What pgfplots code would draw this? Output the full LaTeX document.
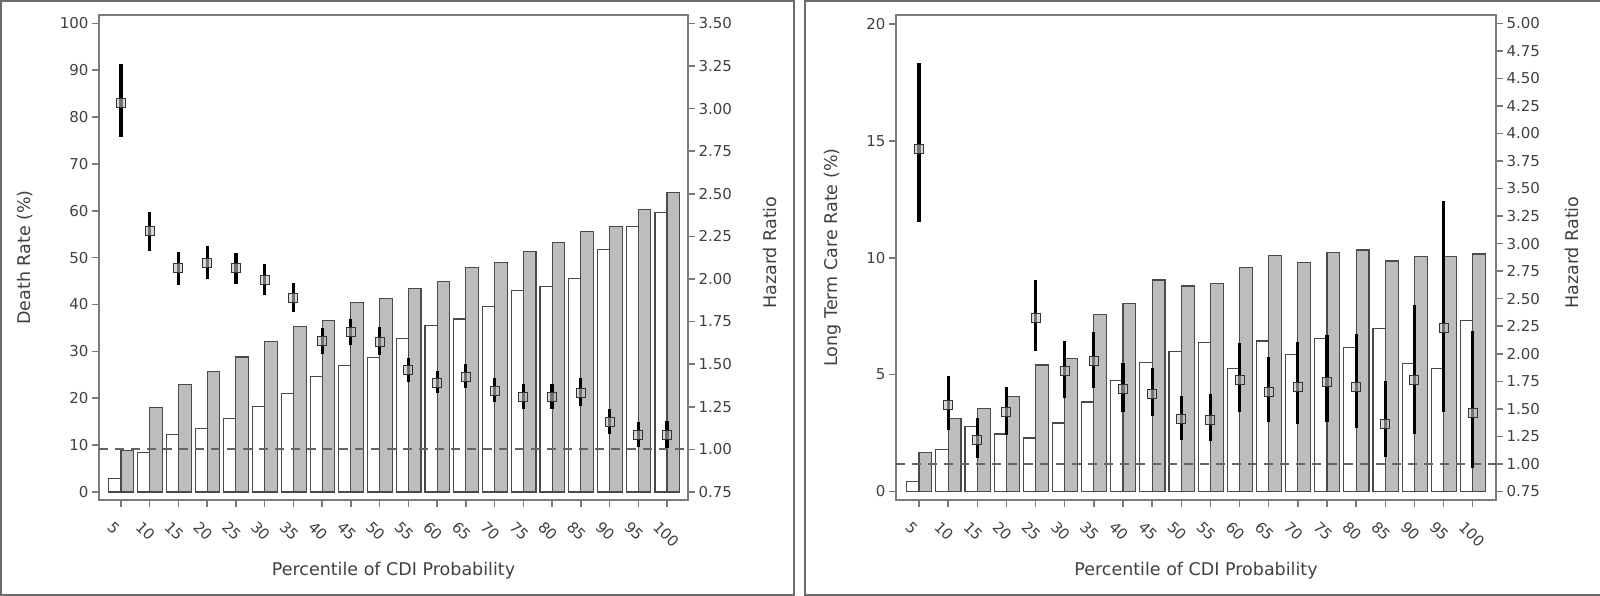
\documentclass[border=0pt]{standalone}
\usepackage{pgfplots}
\pgfplotsset{compat=1.18}
\usepackage{pgfplotstable}
\usepackage{fontspec}
\setmainfont{DejaVu Sans}
\definecolor{txt}{HTML}{404040}
\definecolor{axc}{HTML}{7A7A7A}
\definecolor{barg}{HTML}{BDBDBD}
\definecolor{bard}{HTML}{4A4A4A}
\definecolor{frm}{HTML}{6A6A6A}

\pgfplotstableread{
idx white gray hr lo hi
0 2.8 8.8 3.034 2.831 3.261
1 8.4 18.0 2.281 2.166 2.393
2 12.2 23.0 2.062 1.964 2.160
3 13.5 25.7 2.095 1.998 2.195
4 15.7 28.8 2.062 1.970 2.150
5 18.3 32.2 1.994 1.906 2.086
6 21.1 35.4 1.886 1.808 1.978
7 24.6 36.5 1.638 1.560 1.710
8 26.9 40.4 1.690 1.612 1.765
9 28.6 41.2 1.632 1.554 1.716
10 32.8 43.4 1.466 1.397 1.534
11 35.6 45.0 1.391 1.329 1.462
12 36.9 47.9 1.426 1.358 1.499
13 39.5 48.9 1.344 1.276 1.417
14 42.9 51.4 1.309 1.237 1.384
15 43.9 53.2 1.309 1.237 1.384
16 45.6 55.5 1.333 1.255 1.417
17 51.7 56.6 1.159 1.090 1.235
18 56.6 60.3 1.084 1.016 1.159
19 59.6 63.9 1.084 1.006 1.168
}\deathtab

\pgfplotstableread{
idx white gray hr lo hi
0 0.43 1.65 3.858 3.196 4.643
1 1.79 3.14 1.539 1.306 1.796
2 2.79 3.56 1.222 1.056 1.418
3 2.46 4.07 1.473 1.267 1.699
4 2.29 5.41 2.325 2.029 2.672
5 2.93 5.68 1.841 1.600 2.119
6 3.83 7.58 1.932 1.690 2.198
7 4.74 8.05 1.684 1.469 1.917
8 5.53 9.05 1.639 1.439 1.872
9 5.99 8.79 1.412 1.222 1.620
10 6.37 8.91 1.403 1.205 1.636
11 5.28 9.59 1.765 1.470 2.097
12 6.44 10.11 1.650 1.379 1.970
13 5.88 9.79 1.696 1.367 2.106
14 6.53 10.21 1.741 1.379 2.172
15 6.16 10.33 1.696 1.322 2.178
16 6.96 9.86 1.367 1.063 1.750
17 5.49 10.07 1.765 1.274 2.446
18 5.28 10.07 2.235 1.470 3.383
19 7.31 10.16 1.464 0.961 2.205
}\ltctab

\pgfplotsset{
  base/.style={
    scale only axis, height=485pt,
    axis line style={axc, line width=1.8pt},
    major tick length=7pt,
    tick align=outside,
    tick style={axc, line width=1.5pt},
    tick label style={font=\fontsize{15pt}{18pt}\selectfont, text=txt},
    label style={font=\fontsize{17.5pt}{21pt}\selectfont, text=txt},
    /pgf/number format/assume math mode=true,
    xtick={0,...,19},
  },
  rateaxis/.style={
    base,
    xtick pos=left, ytick pos=left,
    xticklabels={5,10,15,20,25,30,35,40,45,50,55,60,65,70,75,80,85,90,95,100},
    xticklabel style={xshift=-7pt, yshift=-13pt, rotate=-45, anchor=north west, inner sep=0pt},
    xlabel style={at={(axis description cs:0.5,0)}, anchor=center, yshift=-71pt},
    ylabel style={anchor=center},
  },
  hraxis/.style={
    base,
    axis x line=none, axis y line*=right, ytick pos=right,
    yticklabel style={/pgf/number format/.cd, fixed, fixed zerofill, precision=2},
    ylabel style={anchor=center},
  },
  whitebar/.style={ybar, bar width=0.42, bar shift=-0.21, fill=white, draw=bard, line width=1.1pt},
  graybar/.style={ybar, bar width=0.44, bar shift=0.22, fill=barg, draw=bard, line width=1.1pt},
  hrmarks/.style={only marks, mark=square*, mark size=4.5pt,
    mark options={fill=gray!50, fill opacity=0.6, draw=black!80, line width=1pt},
    error bars/.cd, y dir=both, y explicit, error mark=none,
    error bar style={line width=3.2pt, black}},
  refline/.style={bard!85, line width=1.8pt, dash pattern=on 9pt off 7pt},
}

\begin{document}
\begin{tikzpicture}[x=1pt,y=1pt]
\useasboundingbox (0,0) rectangle (1600,596);
\draw[frm, line width=2pt] (1,1) rectangle (794,595);
\draw[frm, line width=2pt] (805,1) rectangle (1604,595);

% ---------- left panel ----------
\begin{axis}[rateaxis, at={(99pt,96pt)}, anchor=south west, width=589pt,
  xmin=-0.765, xmax=19.73, ymin=-1.71, ymax=101.77,
  ytick={0,10,...,100},
  xlabel={Percentile of CDI Probability},
  ylabel={Death Rate (\%)},
  ylabel style={at={(axis description cs:-0.1256,0.5)}}]
\addplot[whitebar] table[x=idx,y=white]{\deathtab};
\addplot[graybar] table[x=idx,y=gray]{\deathtab};
\end{axis}
\begin{axis}[hraxis, at={(99pt,96pt)}, anchor=south west, width=589pt,
  xmin=-0.765, xmax=19.73, ymin=0.703, ymax=3.549,
  ytick={0.75,1,...,3.5},
  ylabel={Hazard Ratio},
  ylabel style={at={(axis description cs:1.139,0.51)}}]
\addplot[refline] coordinates {(-0.765,1) (19.73,1)};
\addplot[hrmarks] table[x=idx, y=hr,
  y error plus expr=\thisrow{hi}-\thisrow{hr},
  y error minus expr=\thisrow{hr}-\thisrow{lo}]{\deathtab};
\end{axis}

% ---------- right panel ----------
\begin{axis}[rateaxis, at={(896pt,96pt)}, anchor=south west, width=600pt,
  xmin=-0.789, xmax=19.8, ymin=-0.363, ymax=20.385,
  ytick={0,5,10,15,20},
  xlabel={Percentile of CDI Probability},
  ylabel={Long Term Care Rate (\%)},
  ylabel style={at={(axis description cs:-0.105,0.5)}}]
\addplot[whitebar] table[x=idx,y=white]{\ltctab};
\addplot[graybar] table[x=idx,y=gray]{\ltctab};
\end{axis}
\begin{axis}[hraxis, at={(896pt,96pt)}, anchor=south west, width=600pt,
  xmin=-0.789, xmax=19.8, ymin=0.673, ymax=5.075,
  ytick={0.75,1,...,5},
  ylabel={Hazard Ratio},
  ylabel style={at={(axis description cs:1.126,0.51)}}]
\addplot[refline] coordinates {(-0.789,1) (19.8,1)};
\addplot[hrmarks] table[x=idx, y=hr,
  y error plus expr=\thisrow{hi}-\thisrow{hr},
  y error minus expr=\thisrow{hr}-\thisrow{lo}]{\ltctab};
\end{axis}
\end{tikzpicture}
\end{document}
